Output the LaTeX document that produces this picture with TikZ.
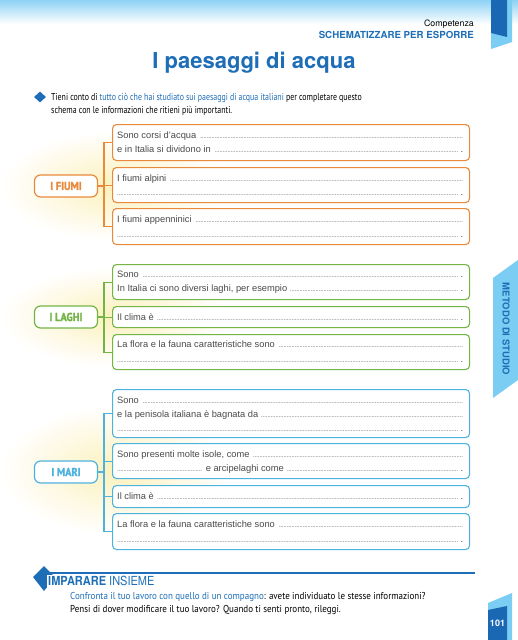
\documentclass[tikz,border=0pt]{standalone}
\usepackage{fontspec}
\setmainfont{TeX Gyre Heros}
\newfontfamily\hel{Liberation Sans}
\newfontfamily\ptsans[FakeStretch=0.79]{PT Sans}
\newfontfamily\ptsansb[FakeStretch=0.9]{PT Sans}
\newfontfamily\ptlab[FakeStretch=0.9, BoldFont={PT Sans Bold}, BoldFeatures={FakeBold=1.6}]{PT Sans}
\newfontfamily\hcond[FakeStretch=0.88]{TeX Gyre Heros}
\usetikzlibrary{shapes.geometric}
\definecolor{orangeC}{HTML}{E8893B}
\definecolor{greenC}{HTML}{72B545}
\definecolor{blueC}{HTML}{4DB3DE}
\definecolor{titleblue}{HTML}{1E6EB7}
\definecolor{darkblue}{HTML}{1A67B4}
\definecolor{tabblue}{HTML}{7CCDF3}
\definecolor{topblue}{HTML}{8DD2F4}
\definecolor{boxgray}{HTML}{4A4A4A}
\definecolor{glowC}{HTML}{FCF1BC}
\newcommand\dl{\leaders\hbox to 1.6pt{\hss\fontsize{6}{6}\selectfont.\hss}\hfill}
\newcommand\bxl[1]{\hbox to 346pt{#1}}
\begin{document}
\begin{tikzpicture}[x=1pt,y=-1pt,
  box/.style={draw, rounded corners=4pt, line width=1.1pt, fill=white, minimum width=357pt, anchor=north west, inner sep=0},
  mainnode/.style={draw, rounded corners=6pt, line width=1.2pt, fill=white, minimum width=63pt, minimum height=22pt, inner sep=0, font=\ptlab\bfseries\fontsize{11.5}{13}\selectfont},
  ln/.style={anchor=base west, inner sep=0, font=\hel\fontsize{9.3}{11}\selectfont, text=boxgray},
  conn/.style={line width=1.1pt},
  para/.style={anchor=base west, inner sep=0, font=\ptsans\fontsize{10}{13}\selectfont, text=black},
  parab/.style={anchor=base west, inner sep=0, font=\ptsansb\fontsize{10}{13}\selectfont, text=black}]
\useasboundingbox (0,0) rectangle (518,640);
\fill[white] (0,0) rectangle (518,640);
\shade[top color=topblue, bottom color=white] (0,0) rectangle (518,24);
% top tab
\fill[tabblue] (491,0) -- (512,0) -- (512,42) -- (491,49) -- cycle;
\fill[darkblue] (491,0) -- (507,0) -- (507,37) -- (491,33) -- cycle;
% header
\node[anchor=base east, inner sep=0, font=\fontsize{8.8}{10}\selectfont] (comp) at (474,26) {Competenza};
\node[anchor=base east, inner sep=0, font=\bfseries\fontsize{9.7}{11}\selectfont, text=titleblue] (schem) at (474,38) {SCHEMATIZZARE PER ESPORRE};
\node[anchor=base, inner sep=0, font=\bfseries\fontsize{22}{24}\selectfont, text=titleblue] (title) at (254,68) {I paesaggi di acqua};
% instruction
\node[diamond, fill=titleblue, minimum width=12pt, minimum height=11pt, inner sep=0] (bul) at (40,97) {};
\node[para] (ins1) at (51,100) {Tieni conto di \textcolor{titleblue}{tutto ciò che hai studiato sui paesaggi di acqua italiani} per completare questo};
\node[para] (ins2) at (51,113) {schema con le informazioni che ritieni più importanti.};
% glows
\shade[inner color=glowC, outer color=white] (115,186) ellipse [x radius=115pt, y radius=55pt];
\shade[inner color=glowC, outer color=white] (115,317) ellipse [x radius=115pt, y radius=50pt];
\shade[inner color=glowC, outer color=white] (115,470) ellipse [x radius=115pt, y radius=65pt];
% ---------- I FIUMI
\coordinate (fx) at (104,0);
\node[box, draw=orangeC, minimum height=36pt] (f1) at (112,124) {};
\node[box, draw=orangeC, minimum height=35pt] (f2) at (112,167) {};
\node[box, draw=orangeC, minimum height=36pt] (f3) at (112,208) {};
\node[mainnode, draw=orangeC, text=orangeC] (fn) at (66,186) {I FIUMI};
\draw[conn, orangeC] (f1.west) -- (f1.west -| fx) -- (f3.west -| fx) -- (f3.west);
\draw[conn, orangeC] (f2.west) -- (f2.west -| fx);
\draw[conn, orangeC] (fn.east) -- (fn.east -| fx);
\node[ln] (f1a) at (117,138) {\bxl{Sono corsi d’acqua \dl}};
\node[ln] (f1b) at (117,152) {\bxl{e in Italia si dividono in \dl\ .}};
\node[ln] (f2a) at (117,181) {\bxl{I fiumi alpini \dl}};
\node[ln] (f2b) at (117,195) {\bxl{\dl\ .}};
\node[ln] (f3a) at (117,222) {\bxl{I fiumi appenninici \dl}};
\node[ln] (f3b) at (117,237) {\bxl{\dl\ .}};
% ---------- I LAGHI
\coordinate (lx) at (104,0);
\node[box, draw=greenC, minimum height=35pt] (l1) at (112,264) {};
\node[box, draw=greenC, minimum height=21pt] (l2) at (112,306) {};
\node[box, draw=greenC, minimum height=35pt] (l3) at (112,334) {};
\node[mainnode, draw=greenC, text=greenC] (lnode) at (66,317) {I LAGHI};
\draw[conn, greenC] (l1.west) -- (l1.west -| lx) -- (l3.west -| lx) -- (l3.west);
\draw[conn, greenC] (l2.west) -- (l2.west -| lx);
\draw[conn, greenC] (lnode.east) -- (lnode.east -| lx);
\node[ln] (l1a) at (117,277) {\bxl{Sono \dl\ .}};
\node[ln] (l1b) at (117,291) {\bxl{In Italia ci sono diversi laghi, per esempio \dl\ .}};
\node[ln] (l2a) at (117,320) {\bxl{Il clima è \dl\ .}};
\node[ln] (l3a) at (117,347) {\bxl{La flora e la fauna caratteristiche sono \dl}};
\node[ln] (l3b) at (117,362) {\bxl{\dl\ .}};
% ---------- I MARI
\coordinate (mx) at (104,0);
\node[box, draw=blueC, minimum height=48pt] (m1) at (112,389) {};
\node[box, draw=blueC, minimum height=35pt] (m2) at (112,443) {};
\node[box, draw=blueC, minimum height=22pt] (m3) at (112,485) {};
\node[box, draw=blueC, minimum height=36pt] (m4) at (112,513) {};
\node[mainnode, draw=blueC, text=blueC] (mn) at (66,472) {I MARI};
\draw[conn, blueC] (m1.west) -- (m1.west -| mx) -- (m4.west -| mx) -- (m4.west);
\draw[conn, blueC] (m2.west) -- (m2.west -| mx);
\draw[conn, blueC] (m3.west) -- (m3.west -| mx);
\draw[conn, blueC] (mn.east) -- (mn.east -| mx);
\node[ln] (m1a) at (117,403) {\bxl{Sono \dl}};
\node[ln] (m1b) at (117,417) {\bxl{e la penisola italiana è bagnata da \dl}};
\node[ln] (m1c) at (117,431) {\bxl{\dl\ .}};
\node[ln] (m2a) at (117,457) {\bxl{Sono presenti molte isole, come \dl}};
\node[ln] (m2b) at (117,471) {\bxl{\hbox to 86pt{\dl} e arcipelaghi come \dl\ .}};
\node[ln] (m3a) at (117,499) {\bxl{Il clima è \dl\ .}};
\node[ln] (m4a) at (117,527) {\bxl{La flora e la fauna caratteristiche sono \dl}};
\node[ln] (m4b) at (117,542) {\bxl{\dl\ .}};
% side tab
\fill[tabblue] (493,278) -- (518,260) -- (518,380) -- (493,398) -- cycle;
\node[rotate=-90, inner sep=0, font=\bfseries\fontsize{9.5}{10}\selectfont, text=titleblue] (met) at (506,329) {METODO DI STUDIO};
% bottom section
\fill[titleblue] (33,577) -- (44,566) -- (55,577) -- (44,591) -- cycle;
\fill[white] (47,575) rectangle (165,595);
\draw[titleblue, line width=1.5pt] (43,573) -- (475,573);
\node[anchor=base west, inner sep=0, font=\hcond\fontsize{12.5}{14}\selectfont, text=titleblue] (imp) at (48,585) {\bfseries IMPARARE \mdseries INSIEME};
\node[parab] (cf1) at (70,599) {\textcolor{titleblue}{Confronta il tuo lavoro con quello di un compagno}: avete individuato le stesse informazioni?};
\node[parab] (cf2) at (70,612) {Pensi di dover modificare il tuo lavoro? Quando ti senti pronto, rileggi.};
% page tab
\fill[tabblue] (488,603) -- (512,593) -- (512,640) -- (488,640) -- cycle;
\fill[darkblue] (488,610) -- (507,606) -- (507,640) -- (488,640) -- cycle;
\node[text=white, inner sep=0, font=\bfseries\fontsize{9}{10}\selectfont] (pg) at (497.5,623) {101};
\end{tikzpicture}
\end{document}
